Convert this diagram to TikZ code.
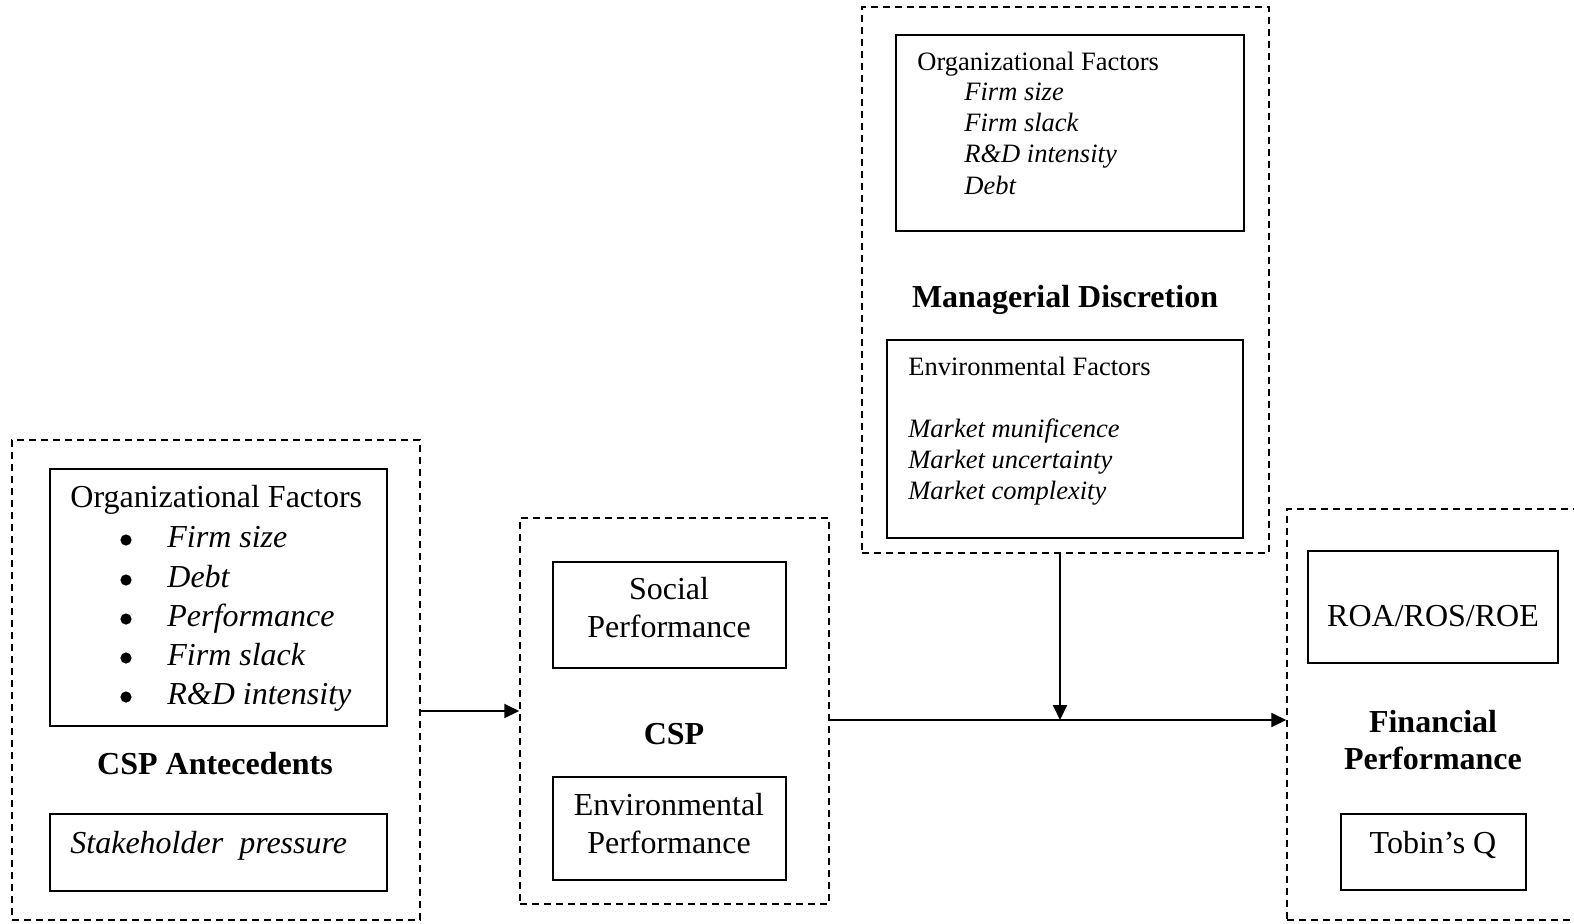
\documentclass[tikz,border=0pt]{standalone}
\usepackage{fontspec}
\setmainfont{Liberation Serif}
\usetikzlibrary{arrows.meta,fit}
\newcommand{\bigtxt}{\fontsize{16}{19}\selectfont}
\newcommand{\smalltxt}{\fontsize{13.25}{15.5}\selectfont}
\tikzset{
  dashbox/.style={draw, dash pattern=on 3.5pt off 2.5pt, line width=0.75pt, inner sep=0pt},
  solidbox/.style={draw, line width=1pt, inner sep=0pt},
  thinbox/.style={draw, line width=0.6pt, inner sep=0pt},
  txt/.style={inner sep=0pt, font=\bigtxt, anchor=base west},
  ctxt/.style={inner sep=0pt, font=\bigtxt, anchor=base},
  stxt/.style={inner sep=0pt, font=\smalltxt, anchor=base west},
  dot/.style={circle, fill, inner sep=0pt, minimum size=5.6pt},
  arr/.style={line width=1pt, -{Triangle[length=7.5pt,width=7pt]}},
}
\begin{document}
\begin{tikzpicture}[x=0.5pt,y=-0.5pt]
            \useasboundingbox (0,0) rectangle (1574,923);
            \clip (0,0) rectangle (1574,923);
            % CSP antecedents
            \node[dashbox, fit={(12,440) (420,920)}] (ant) {};
            \node[solidbox, fit={(50,469) (387,726)}] (antorg) {};
            \node[txt] (antorgtitle) at (70,507) {Organizational Factors};
            \foreach \lab/\yb [count=\i] in {Firm size/547, Debt/587, Performance/626, Firm slack/665, R\&D intensity/704} {
              \node[dot] (antdot\i) at (126,\yb-7) {};
              \node[txt] (antitem\i) at (167,\yb) {\itshape \lab};
            }
            \node[ctxt, font=\bigtxt\bfseries] (anttitle) at (215,774) {CSP Antecedents};
            \node[solidbox, fit={(50,814) (387,891)}] (stake) {};
            \node[txt] (staketxt) at (70,853) {\itshape Stakeholder\ \ pressure};
            % CSP
            \node[dashbox, fit={(520,518) (829,904)}] (csp) {};
            \node[thinbox, fit={(553,562) (786,668)}] (social) {};
            \node[ctxt] (social1) at (669,599) {Social};
            \node[ctxt] (social2) at (669,637) {Performance};
            \node[ctxt, font=\bigtxt\bfseries] (csptitle) at (674,744) {CSP};
            \node[thinbox, fit={(553,777) (786,880)}] (envp) {};
            \node[ctxt] (envp1) at (669,815) {Environmental};
            \node[ctxt] (envp2) at (669,853) {Performance};
            % managerial discretion
            \node[dashbox, fit={(862,7) (1269,553)}] (md) {};
            \node[solidbox, fit={(896,35) (1244,231)}] (mdorg) {};
            \node[stxt] (mdorgtitle) at (917,70) {Organizational Factors};
            \foreach \lab/\yb [count=\i] in {Firm size/100, Firm slack/131, R\&D intensity/162, Debt/194} {
              \node[stxt] (mditem\i) at (964,\yb) {\itshape \lab};
            }
            \node[ctxt, font=\bigtxt\bfseries] (mdtitle) at (1065,307) {Managerial Discretion};
            \node[solidbox, fit={(887,340) (1243,538)}] (mdenv) {};
            \node[stxt] (mdenvtitle) at (908,375) {Environmental Factors};
            \foreach \lab/\yb [count=\i] in {Market munificence/437, Market uncertainty/468, Market complexity/499} {
              \node[stxt] (mkt\i) at (908,\yb) {\itshape \lab};
            }
            % financial performance
            \node[dashbox, fit={(1287,509) (1600,920)}] (fp) {};
            \node[thinbox, fit={(1308,551) (1558,663)}] (roa) {};
            \node[ctxt] (roatxt) at (1433,626) {ROA/ROS/ROE};
            \node[ctxt, font=\bigtxt\bfseries] (fptitle1) at (1433,732) {Financial};
            \node[ctxt, font=\bigtxt\bfseries] (fptitle2) at (1433,769) {Performance};
            \node[thinbox, fit={(1341,814) (1526,890)}] (tobin) {};
            \node[ctxt] (tobintxt) at (1433,853) {Tobin's Q};
            % arrows
            \coordinate (a1) at (0,711);
            \coordinate (a2) at (1060,720);
            \draw[arr] (ant.east |- a1) -- (csp.west |- a1);
            \draw[arr] (csp.east |- a2) -- (fp.west |- a2);
            \draw[arr] (md.south -| a2) -- (a2);
          \end{tikzpicture}
\end{document}
